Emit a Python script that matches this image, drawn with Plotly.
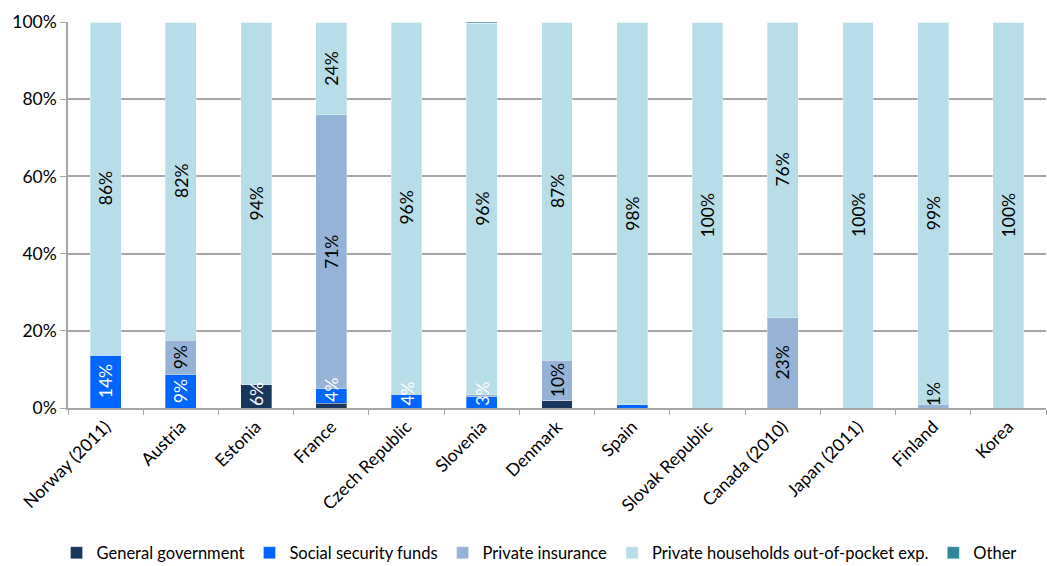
import plotly.graph_objects as go

countries = ["Norway (2011)", "Austria", "Estonia", "France", "Czech Republic", "Slovenia",
             "Denmark", "Spain", "Slovak Republic", "Canada (2010)", "Japan (2011)", "Finland", "Korea"]

general_government = [0, 0, 6.0, 1.2, 0, 0, 2.0, 0, 0, 0, 0, 0, 0]
social_security = [13.7, 8.6, 0, 3.8, 3.6, 2.9, 0, 0.8, 0, 0, 0, 0, 0]
private_insurance = [0, 9.0, 0, 71.0, 0, 0.5, 10.4, 0, 0, 23.4, 0, 1.0, 0]
out_of_pocket = [86.3, 82.4, 94.0, 24.0, 96.4, 96.3, 87.6, 99.2, 100, 76.6, 100, 99.0, 100]
other = [0, 0, 0, 0, 0, 0.3, 0, 0, 0, 0, 0, 0, 0]

gg_labels = ["", "", "6%", "", "", "", "", "", "", "", "", "", ""]
ss_labels = ["14%", "9%", "", "4%", "4%", "3%", "", "", "", "", "", "", ""]
pi_labels = ["", "9%", "", "71%", "", "", "10%", "", "", "23%", "", "1%", ""]
oop_labels = ["86%", "82%", "94%", "24%", "96%", "96%", "87%", "98%", "100%", "76%", "100%", "99%", "100%"]

series = [
    ("General government", general_government, "#17375E", gg_labels, "white"),
    ("Social security funds", social_security, "#0066FF", ss_labels, "white"),
    ("Private insurance", private_insurance, "#95B3D7", pi_labels, "black"),
    ("Private households out-of-pocket exp.", out_of_pocket, "#B7DEE8", oop_labels, "black"),
    ("Other", other, "#31859C", None, None),
]

FONT = "Lato, sans-serif"
FS = 17.5

fig = go.Figure()
annotations = []
base = [0.0] * len(countries)
for name, vals, color, labels, tcolor in series:
    fig.add_trace(go.Bar(
        name=name, x=countries, y=vals,
        marker=dict(color=color, line=dict(color="rgba(255,255,255,0.6)", width=0.5)),
        hoverinfo="name+y",
    ))
    if labels:
        for i, (c, v, lab) in enumerate(zip(countries, vals, labels)):
            if not lab:
                continue
            if v < 6.5:
                annotations.append(dict(x=c, y=base[i], text=lab, textangle=-90, showarrow=False,
                                        xref="x", yref="y", yanchor="bottom", yshift=0,
                                        font=dict(family=FONT, size=FS, color=tcolor)))
            else:
                annotations.append(dict(x=c, y=base[i] + v / 2, text=lab, textangle=-90, showarrow=False,
                                        xref="x", yref="y", yanchor="middle",
                                        font=dict(family=FONT, size=FS, color=tcolor)))
    base = [b + v for b, v in zip(base, vals)]

fig.update_layout(
    barmode="stack",
    bargap=0.59,
    width=1047, height=566,
    margin=dict(l=68, r=1, t=22, b=158, autoexpand=False),
    plot_bgcolor="white", paper_bgcolor="white",
    font=dict(family=FONT, size=FS, color="black"),
    annotations=annotations,
    showlegend=True,
    legend=dict(orientation="h", xref="container", x=0.054, xanchor="left",
                yref="container", y=0.023, yanchor="middle",
                font=dict(family=FONT, size=16.5), itemwidth=30, traceorder="normal",
                tracegroupgap=0),
    xaxis=dict(type="category", tickangle=-45, ticks="outside", tickson="boundaries", ticklen=5,
               tickcolor="#A6A6A6", showline=True, linecolor="#A6A6A6", linewidth=1.5,
               showgrid=False, tickfont=dict(family=FONT, size=FS), automargin=False),
    yaxis=dict(range=[0, 100], tickvals=[0, 20, 40, 60, 80, 100],
               ticktext=["0%", "20%", "40%", "60%", "80%", "100%"],
               ticks="outside", ticklen=6, tickcolor="#A6A6A6",
               showline=True, linecolor="#A6A6A6", linewidth=1.5,
               showgrid=True, gridcolor="#A6A6A6", gridwidth=1.5,
               tickfont=dict(family=FONT, size=FS), zeroline=False, automargin=False),
)

fig.write_html("out.html")
